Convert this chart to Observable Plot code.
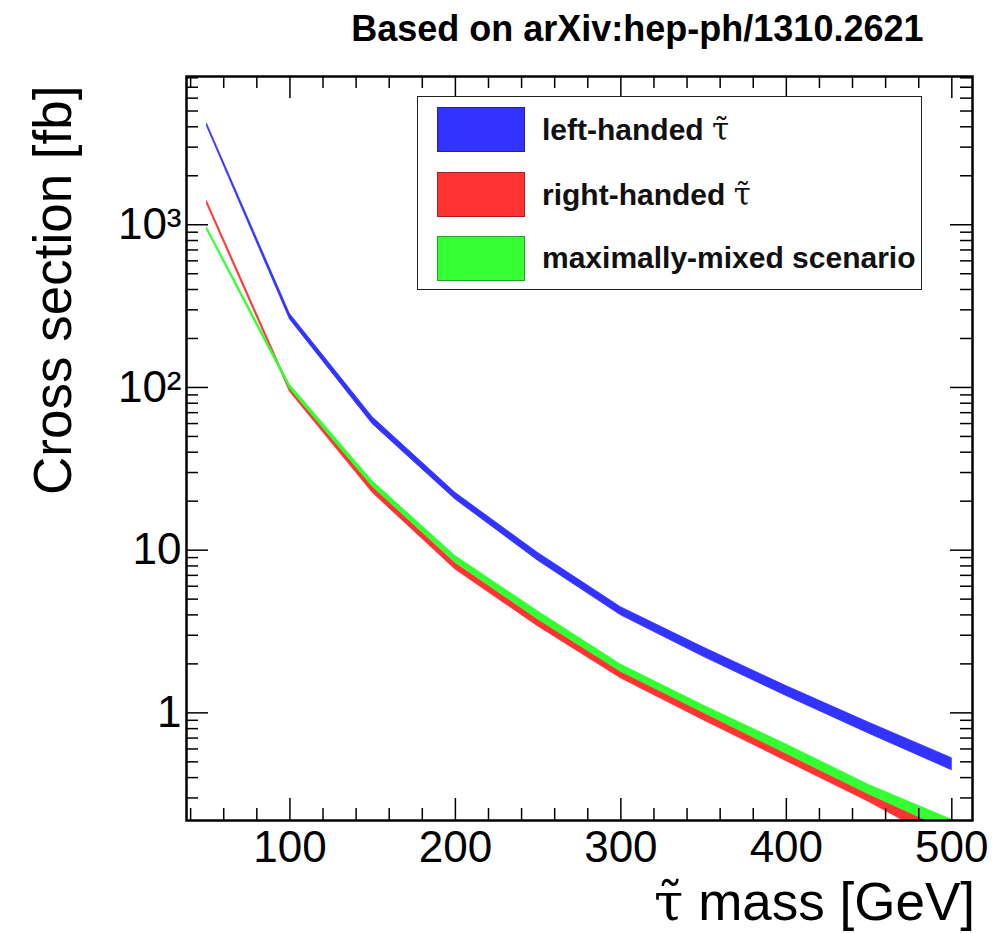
<!DOCTYPE html>
<html>
<head>
<meta charset="utf-8">
<script src="https://cdn.jsdelivr.net/npm/d3@7"></script>
<script src="https://cdn.jsdelivr.net/npm/@observablehq/plot@0.6"></script>
<style>
  body { margin: 0; background: #fff; }
  #wrap { position: relative; width: 1006px; height: 933px; font-family: "Liberation Sans", Arial, Helvetica, sans-serif; }
  #legend { position: absolute; left: 417px; top: 96px; width: 503px; height: 192px; border: 1.5px solid #222; background: #fff; box-sizing: content-box; }
  .row { position: absolute; left: 19px; height: 46px; display: flex; align-items: center; }
  .sw { width: 88px; height: 45px; box-sizing: border-box; border: 1px solid rgba(0,0,0,0.35); }
  .lab { margin-left: 17px; font-weight: bold; font-size: 30px; color: #111; white-space: nowrap; }
  .tau { font-family: "DejaVu Serif", "Noto Sans", serif; font-weight: normal; }
  .lab .tau { font-size: 31px; }
  #xlab { position: absolute; right: 31px; top: 884px; font-size: 53px; line-height: 36px; color: #000; white-space: nowrap; }
</style>
</head>
<body>
<div id="wrap"></div>
<script>
// stau mass [GeV]
const masses = [50, 100, 150, 200, 250, 300, 350, 400, 450, 500];
// cross section bands [fb]: lower / upper edges
const leftLo  = [4000, 262, 59.5, 20.5, 8.6, 3.98, 2.21, 1.27, 0.745, 0.444];
const leftHi  = [4150, 283, 65.5, 22.5, 9.6, 4.46, 2.52, 1.46, 0.87, 0.527];
const rightLo = [1330, 94, 22.5, 7.6, 3.4, 1.63, 0.90, 0.505, 0.283, 0.15];
const rightHi = [1390, 99, 24.5, 8.3, 3.75, 1.80, 1.00, 0.575, 0.324, 0.185];
const mixedLo = [920, 98, 24.5, 8.4, 3.75, 1.79, 1.00, 0.56, 0.315, 0.185];
const mixedHi = [960, 104, 26.5, 9.2, 4.2, 1.98, 1.11, 0.64, 0.36, 0.22];

const seriesNames = ["left-handed", "right-handed", "maximally-mixed scenario"];
const seriesColors = ["#3333ff", "#ff3333", "#33ff33"];

const xMajor = [100, 200, 300, 400, 500];
const xMinor = [40, 60, 80, 120, 140, 160, 180, 220, 240, 260, 280, 320, 340, 360, 380, 420, 440, 460, 480];
const yMajor = [1, 10, 100, 1000];
const yMinor = [0.3, 0.4, 0.5, 0.6, 0.7, 0.8, 0.9,
  2, 3, 4, 5, 6, 7, 8, 9, 20, 30, 40, 50, 60, 70, 80, 90,
  200, 300, 400, 500, 600, 700, 800, 900, 2000, 3000, 4000, 5000, 6000, 7000, 8000];
const yTickLabels = {1: "1", 10: "10", 100: "10²", 1000: "10³"};

const titleText = "Based on arXiv:hep-ph/1310.2621";
const yLabel = "Cross section [fb]";

function band(lo, hi) { return masses.map((m, i) => ({mass: m, lo: lo[i], hi: hi[i]})); }
const bands = [band(leftLo, leftHi), band(rightLo, rightHi), band(mixedLo, mixedHi)];

const W = 1006, H = 933, mL = 186, mR = 34, mT = 76, mB = 113;
const pw = W - mL - mR, ph = H - mT - mB;
const major = 22, minor = 12;

const chart = Plot.plot({
  width: W, height: H,
  marginLeft: mL, marginRight: mR, marginTop: mT, marginBottom: mB,
  style: {fontFamily: "'Liberation Sans', Arial, Helvetica, sans-serif", background: "#fff", color: "#000"},
  x: {domain: [37.5, 512.5]},
  y: {type: "log", domain: [0.218, 8150]},
  marks: [
    ...bands.map((b, i) => Plot.areaY(b, {x: "mass", y1: "lo", y2: "hi", fill: seriesColors[i], stroke: seriesColors[i], strokeWidth: 0.8, clip: true})),
    Plot.tickY(yMajor, {y: d => d, insetRight: pw - major, strokeWidth: 1.5}),
    Plot.tickY(yMinor, {y: d => d, insetRight: pw - minor, strokeWidth: 1.5}),
    Plot.tickY(yMajor, {y: d => d, insetLeft: pw - major, strokeWidth: 1.5}),
    Plot.tickY(yMinor, {y: d => d, insetLeft: pw - minor, strokeWidth: 1.5}),
    Plot.tickX(xMajor, {x: d => d, insetTop: ph - major, strokeWidth: 1.5}),
    Plot.tickX(xMinor, {x: d => d, insetTop: ph - minor, strokeWidth: 1.5}),
    Plot.tickX(xMajor, {x: d => d, insetBottom: ph - major, strokeWidth: 1.5}),
    Plot.tickX(xMinor, {x: d => d, insetBottom: ph - minor, strokeWidth: 1.5}),
    Plot.axisX({anchor: "bottom", ticks: xMajor, tickSize: 0, tickPadding: 10, fontSize: 44, label: null, tickFormat: d => String(d)}),
    Plot.axisY({anchor: "left", ticks: yMajor, tickSize: 0, tickPadding: 5, fontSize: 44, label: null, tickFormat: d => yTickLabels[d]}),
    Plot.frame({stroke: "#000", strokeWidth: 2.5}),
    Plot.text([titleText], {frameAnchor: "top-right", dx: -49, dy: -36, lineAnchor: "bottom", textAnchor: "end", fontSize: 36, fontWeight: "bold"}),
    Plot.text([yLabel], {frameAnchor: "top-left", dx: -116, dy: 9, rotate: -90, lineAnchor: "bottom", textAnchor: "end", fontSize: 53})
  ]
});

const wrap = document.getElementById("wrap");
wrap.appendChild(chart);

const legend = document.createElement("div");
legend.id = "legend";
const labels = [
  `left-handed <span class="tau">τ̃</span>`,
  `right-handed <span class="tau">τ̃</span>`,
  `maximally-mixed scenario`
];
const rowTops = [9, 74, 138];
seriesNames.forEach((n, i) => {
  const row = document.createElement("div");
  row.className = "row";
  row.style.top = rowTops[i] + "px";
  row.innerHTML = `<div class="sw" style="background:${seriesColors[i]}"></div><div class="lab">${labels[i]}</div>`;
  legend.appendChild(row);
});
wrap.appendChild(legend);

const xl = document.createElement("div");
xl.id = "xlab";
xl.innerHTML = `<span class="tau">τ̃</span> mass [GeV]`;
wrap.appendChild(xl);
</script>
</body>
</html>
